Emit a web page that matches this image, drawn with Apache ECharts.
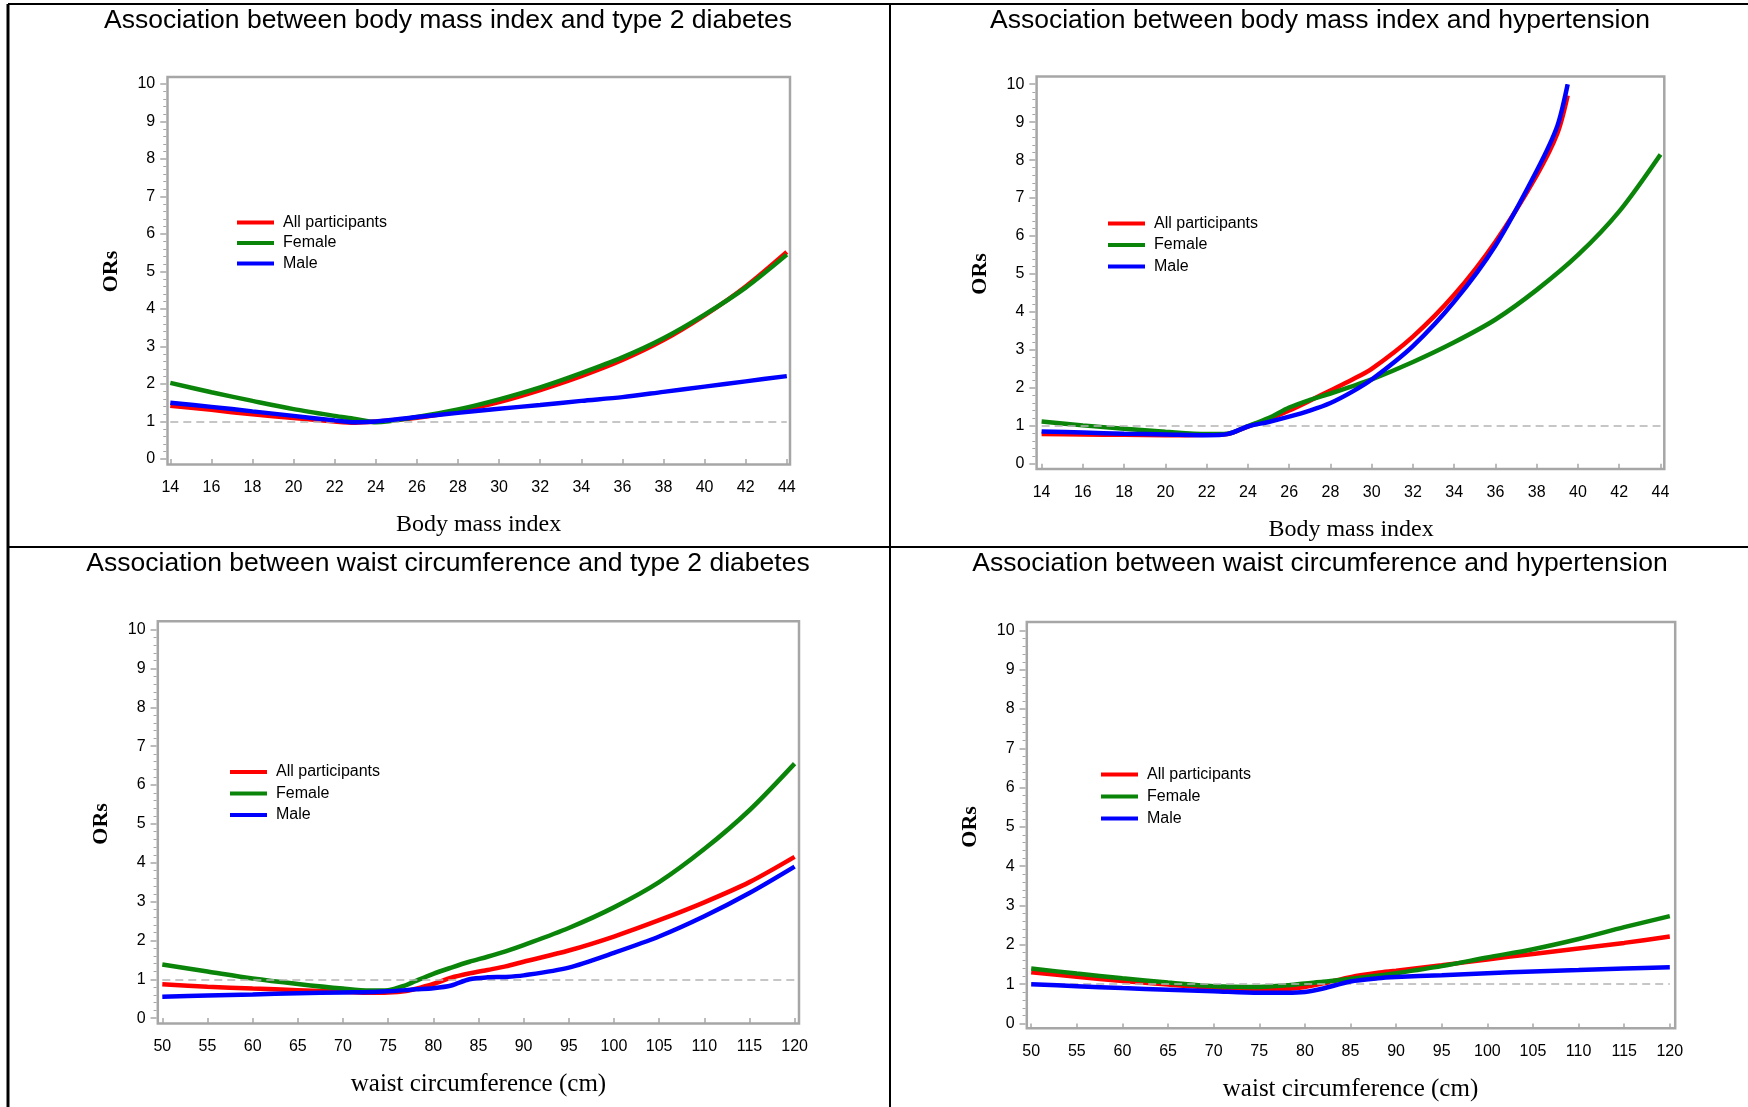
<!DOCTYPE html>
<html><head><meta charset="utf-8">
<script src="https://cdn.jsdelivr.net/npm/echarts@6/dist/echarts.min.js"></script>
<style>html,body{margin:0;padding:0;background:#fff}#c{width:1748px;height:1107px}</style>
</head><body><div id="c"></div>
<script>
// ---------- DATA ----------
const seriesNames = ['All participants', 'Female', 'Male'];
const yTicks = [0,1,2,3,4,5,6,7,8,9,10];
const bmiTicks = [14,16,18,20,22,24,26,28,30,32,34,36,38,40,42,44];
const waistTicks = [50,55,60,65,70,75,80,85,90,95,100,105,110,115,120];

// Panel 1: BMI and type 2 diabetes
const bmiDiabX      = [14,16,18,20,22,23,24,26,28,30,32,34,36,38,40,42,44];
const bmiDiabAll    = [1.42,1.31,1.19,1.09,1.00,0.97,1.00,1.10,1.28,1.52,1.84,2.21,2.64,3.17,3.83,4.60,5.52];
const bmiDiabFemale = [2.03,1.78,1.55,1.33,1.15,1.07,0.98,1.12,1.32,1.59,1.91,2.29,2.71,3.22,3.85,4.57,5.45];
const bmiDiabMale   = [1.50,1.39,1.27,1.15,1.03,0.98,1.00,1.12,1.23,1.34,1.44,1.55,1.65,1.79,1.93,2.07,2.21];

// Panel 2: BMI and hypertension
const bmiHtnX       = [14,16,18,20,22,23,24,25,26,27,28,29,30,32,34,36,38,39,39.5];
const bmiHtnAll     = [0.78,0.77,0.76,0.75,0.76,0.78,0.98,1.17,1.40,1.66,1.93,2.20,2.50,3.35,4.45,5.85,7.60,8.70,9.70];
const bmiHtnMale    = [0.85,0.82,0.79,0.77,0.75,0.78,0.98,1.10,1.24,1.40,1.60,1.88,2.22,3.10,4.27,5.75,7.72,8.90,10.0];
const bmiHtnFemaleX = [14,16,18,20,22,23,24,25,26,27,28,29,30,32,34,36,38,40,42,44];
const bmiHtnFemale  = [1.11,1.01,0.92,0.84,0.78,0.79,0.99,1.20,1.48,1.68,1.85,2.03,2.22,2.68,3.20,3.80,4.58,5.50,6.65,8.15];

// Panel 3: waist circumference and type 2 diabetes
const wcDiabX      = [50,55,60,65,70,73,75,77,78,80,82,84,86,88,90,95,100,105,110,115,120];
const wcDiabAll    = [0.87,0.81,0.76,0.72,0.68,0.65,0.66,0.70,0.75,0.88,1.04,1.15,1.24,1.33,1.45,1.74,2.10,2.52,2.98,3.50,4.15];
const wcDiabFemale = [1.38,1.20,1.02,0.88,0.76,0.71,0.72,0.85,0.95,1.14,1.30,1.45,1.58,1.72,1.88,2.32,2.85,3.50,4.35,5.35,6.55];
const wcDiabMale   = [0.55,0.58,0.61,0.64,0.66,0.67,0.69,0.72,0.74,0.77,0.84,1.00,1.05,1.06,1.10,1.30,1.68,2.10,2.62,3.22,3.90];

// Panel 4: waist circumference and hypertension
const wcHtnX      = [50,55,60,65,70,75,78,80,82,85,88,90,95,100,105,110,115,120];
const wcHtnAll    = [1.30,1.19,1.08,0.99,0.91,0.86,0.88,0.93,1.02,1.18,1.29,1.34,1.48,1.63,1.77,1.91,2.05,2.21];
const wcHtnFemale = [1.40,1.27,1.15,1.04,0.95,0.93,0.97,1.02,1.06,1.14,1.22,1.28,1.46,1.68,1.89,2.15,2.45,2.73];
const wcHtnMale   = [1.00,0.95,0.90,0.86,0.82,0.78,0.78,0.80,0.89,1.07,1.15,1.18,1.23,1.28,1.32,1.36,1.40,1.43];

// ---------- LAYOUT ----------
const colors = ['#ff0000', '#0a850a', '#0000ff'];
const panels = [
  { title: 'Association between body mass index and type 2 diabetes', tx: 448, ty: 7,
    grid: {left: 170.3, top: 84, width: 616.5, height: 375}, frame: [167.5, 77, 790, 464.5],
    xMin: 14, xMax: 44, xInt: 2, xName: 'Body mass index', xFont: 24,
    leg: {left: 237, top: 213.5, gap: 2.5},
    lines: [[bmiDiabX, bmiDiabAll], [bmiDiabX, bmiDiabFemale], [bmiDiabX, bmiDiabMale]] },
  { title: 'Association between body mass index and hypertension', tx: 1320, ty: 7,
    grid: {left: 1041.6, top: 84.2, width: 618.9, height: 379.5}, frame: [1036.6, 76.5, 1664.3, 469],
    xMin: 14, xMax: 44, xInt: 2, xName: 'Body mass index', xFont: 24,
    leg: {left: 1108, top: 214.5, gap: 3.5},
    lines: [[bmiHtnX, bmiHtnAll], [bmiHtnFemaleX, bmiHtnFemale], [bmiHtnX, bmiHtnMale]] },
  { title: 'Association between waist circumference and type 2 diabetes', tx: 448, ty: 550,
    grid: {left: 162.3, top: 629.6, width: 632.3, height: 388.5}, frame: [157.8, 621.3, 799, 1023.5],
    xMin: 50, xMax: 120, xInt: 5, xName: 'waist circumference (cm)', xFont: 25,
    leg: {left: 230, top: 763, gap: 3.5},
    lines: [[wcDiabX, wcDiabAll], [wcDiabX, wcDiabFemale], [wcDiabX, wcDiabMale]] },
  { title: 'Association between waist circumference and hypertension', tx: 1320, ty: 550,
    grid: {left: 1031.2, top: 630.3, width: 638.6, height: 393.2}, frame: [1026.8, 622, 1675.2, 1028.2],
    xMin: 50, xMax: 120, xInt: 5, xName: 'waist circumference (cm)', xFont: 25,
    leg: {left: 1101, top: 765.5, gap: 4},
    lines: [[wcHtnX, wcHtnAll], [wcHtnX, wcHtnFemale], [wcHtnX, wcHtnMale]] }
];

const option = {
  animation: false,
  backgroundColor: '#fff',
  title: [], legend: [], grid: [], xAxis: [], yAxis: [], series: [],
  graphic: []
};

const gray = '#a6a6a6';
panels.forEach((p, i) => {
  const g = p.grid;
  const fr = p.frame;
  const yOff = g.left - (fr[0] - 1.25);
  const xOff = (fr[3] + 1.25) - (g.top + g.height);
  option.title.push({
    text: p.title, left: p.tx, top: p.ty, textAlign: 'center', padding: 0,
    textStyle: {fontFamily: 'Liberation Sans', fontSize: 26.5, fontWeight: 'normal', color: '#000'}
  });
  option.legend.push({
    data: seriesNames, orient: 'vertical', left: p.leg.left, top: p.leg.top, padding: 0,
    itemGap: p.leg.gap, itemWidth: 37, itemHeight: 4, icon: 'rect',
    textStyle: {fontFamily: 'Liberation Sans', fontSize: 16, color: '#000', lineHeight: 18, padding: [0,0,0,4]}
  });
  option.grid.push({left: g.left, top: g.top, width: g.width, height: g.height, containLabel: false});
  option.xAxis.push({
    type: 'value', gridIndex: i, min: p.xMin, max: p.xMax, interval: p.xInt,
    offset: xOff,
    axisLine: {show: false}, splitLine: {show: false},
    axisTick: {show: true, length: 5, lineStyle: {color: gray, width: 1.5}},
    axisLabel: {margin: 14, fontFamily: 'Liberation Sans', fontSize: 16, color: '#000', showMinLabel: true, showMaxLabel: true},
    name: p.xName, nameLocation: 'middle', nameGap: 47,
    nameTextStyle: {fontFamily: 'Liberation Serif', fontSize: p.xFont, color: '#000'}
  });
  option.yAxis.push({
    type: 'value', gridIndex: i, min: 0, max: 10, interval: 1,
    offset: yOff,
    axisLine: {show: false}, splitLine: {show: false},
    axisTick: {show: true, length: 6, lineStyle: {color: gray, width: 1.5}},
    minorTick: {show: true, splitNumber: 5, length: 3, lineStyle: {color: gray, width: 1}},
    axisLabel: {margin: 11, fontFamily: 'Liberation Sans', fontSize: 16, color: '#000'},
    name: 'ORs', nameLocation: 'middle', nameGap: 44,
    nameTextStyle: {fontFamily: 'Liberation Serif', fontSize: 22, fontWeight: 'bold', color: '#000'}
  });
  // reference line OR = 1
  option.series.push({
    type: 'line', name: 'ref', xAxisIndex: i, yAxisIndex: i, data: [], z: 1, silent: true,
    markLine: {silent: true, symbol: 'none', label: {show: false},
      lineStyle: {color: '#b4b4b4', width: 1.5, type: [8, 5]},
      data: [{yAxis: 1}]}
  });
  p.lines.forEach((ln, k) => {
    option.series.push({
      type: 'line', name: seriesNames[k], xAxisIndex: i, yAxisIndex: i,
      data: ln[0].map((x, j) => [x, ln[1][j]]),
      showSymbol: false, symbol: 'none', smooth: 0.3, z: 3 + k,
      color: colors[k],
      lineStyle: {color: colors[k], width: 4.5}
    });
  });
  option.graphic.push({
    type: 'rect', silent: true, z: 0,
    shape: {x: fr[0], y: fr[1], width: fr[2] - fr[0], height: fr[3] - fr[1]},
    style: {fill: 'none', stroke: gray, lineWidth: 2.5}
  });
});

// panel borders
const borders = [
  [8, 4, 8, 1107, 3], [8, 4, 1748, 4, 2], [890, 4, 890, 1107, 2], [8, 547, 1748, 547, 2]
];
borders.forEach(b => option.graphic.push({
  type: 'line', silent: true, shape: {x1: b[0], y1: b[1], x2: b[2], y2: b[3]},
  style: {stroke: '#000', lineWidth: b[4]}
}));

const chart = echarts.init(document.getElementById('c'), null, {renderer: 'canvas'});
chart.setOption(option);
</script></body></html>
